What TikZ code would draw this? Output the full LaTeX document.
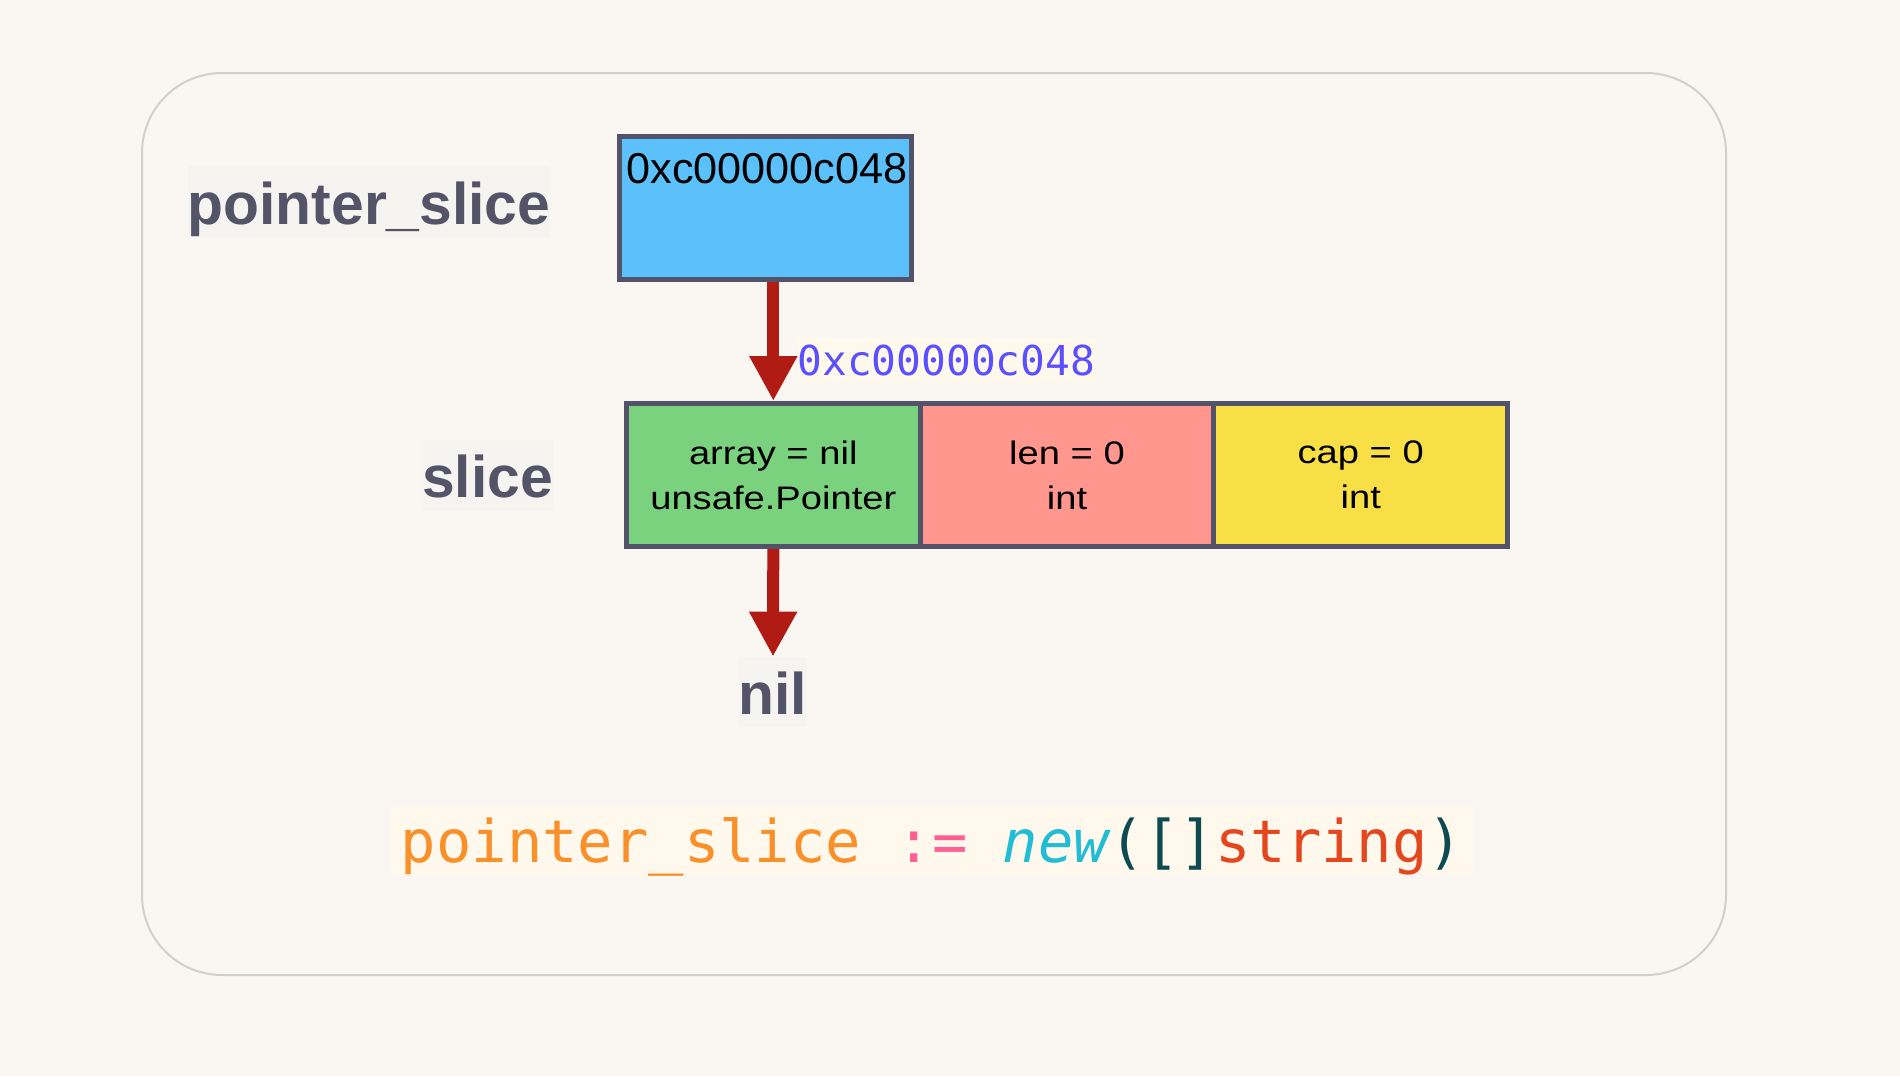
\documentclass[tikz,border=0pt]{standalone}
\usepackage{fontspec}
\setmainfont{Liberation Sans}
\newfontfamily\cellfont[FakeStretch=1.17]{Liberation Sans}
\newfontfamily\codefont{DejaVu Sans Mono}
\usetikzlibrary{arrows.meta}
\definecolor{pagebg}{RGB}{250,247,242}
\definecolor{framecol}{RGB}{211,207,203}
\definecolor{labelbg}{RGB}{246,244,240}
\definecolor{labeltxt}{RGB}{84,84,104}
\definecolor{boxborder}{RGB}{82,82,104}
\definecolor{ptrblue}{RGB}{92,192,251}
\definecolor{cellgreen}{RGB}{122,209,126}
\definecolor{cellred}{RGB}{255,151,143}
\definecolor{cellyellow}{RGB}{248,223,69}
\definecolor{arrowred}{RGB}{176,27,20}
\definecolor{addrblue}{RGB}{90,80,255}
\definecolor{codebg}{RGB}{255,248,236}
\definecolor{codeorange}{RGB}{249,144,42}
\definecolor{codepink}{RGB}{255,95,147}
\definecolor{codecyan}{RGB}{34,188,212}
\definecolor{codeteal}{RGB}{14,75,80}
\definecolor{codered}{RGB}{228,70,30}
\tikzset{
  boxstyle/.style={draw=boxborder, line width=2.5pt, inner sep=0pt},
  cellstyle/.style={boxstyle, minimum width=146.85pt, minimum height=71.5pt,
    align=center, font=\cellfont\fontsize{16.3}{22.5}\selectfont, text=black},
  biglabel/.style={fill=labelbg, text=labeltxt, inner xsep=0pt, inner ysep=0pt,
    font=\fontsize{29.4}{30}\selectfont\bfseries, anchor=base},
  arr/.style={draw=arrowred, line width=6pt,
    -{Triangle[width=22.5pt, length=22.5pt]}, arrowred},
}
\begin{document}
\begin{tikzpicture}[x=0.5pt, y=-0.5pt]
\useasboundingbox (0,0) rectangle (1900,1076);
\fill[pagebg] (0,0) rectangle (1900,1076);
% outer frame
\draw[framecol, line width=1pt, rounded corners=40pt] (142,73) rectangle (1726,975);

% labels
\node[biglabel, text height=29pt, text depth=6.5pt] (lblptr) at (369,224) {pointer\_slice};
\node[biglabel, text height=28.5pt, text depth=7pt] (lblslice) at (487.5,497) {slice};

% pointer box
\node[boxstyle, fill=ptrblue, minimum width=146pt, minimum height=71.5pt] (ptrbox) at (765,208) {};
\node[anchor=base, inner sep=0pt, font=\fontsize{21.6}{24}\selectfont] (ptrtext) at (767,183) {0xc00000c048};

% slice cells
\node[cellstyle, fill=cellgreen] (cellarr) at (773.3,475) {array = nil\\unsafe.Pointer};
\node[cellstyle, fill=cellred] (celllen) at (1067,475) {len = 0\\int};
\node[cellstyle, fill=cellyellow] (cellcap) at (1360.7,475) {cap = 0\\int};

% address label
\node[anchor=base west, fill=codebg, inner xsep=0pt, inner ysep=0pt,
  text height=18.5pt, text depth=4pt, text=addrblue,
  font=\codefont\fontsize{20.6}{22}\selectfont] (addr) at (797,375) {0xc00000c048};

% nil label
\node[biglabel, text height=28.5pt, text depth=6.5pt] (nil) at (773,714) {nil};

% arrows
\draw[arr] (ptrbox.south -| cellarr.north) -- (cellarr.north);
\draw[arr] (cellarr.south) -- (nil.north);

% code line
\node[anchor=base, fill=codebg, inner xsep=5pt, inner ysep=0pt,
  text height=27.5pt, text depth=7pt,
  font=\codefont\fontsize{29.4}{32}\selectfont] (code) at (932,862)
  {\textcolor{codeorange}{pointer\_slice} \textcolor{codepink}{:=} \textcolor{codecyan}{\itshape new}\textcolor{codeteal}{([]}\textcolor{codered}{string}\textcolor{codeteal}{)}};
\end{tikzpicture}
\end{document}
